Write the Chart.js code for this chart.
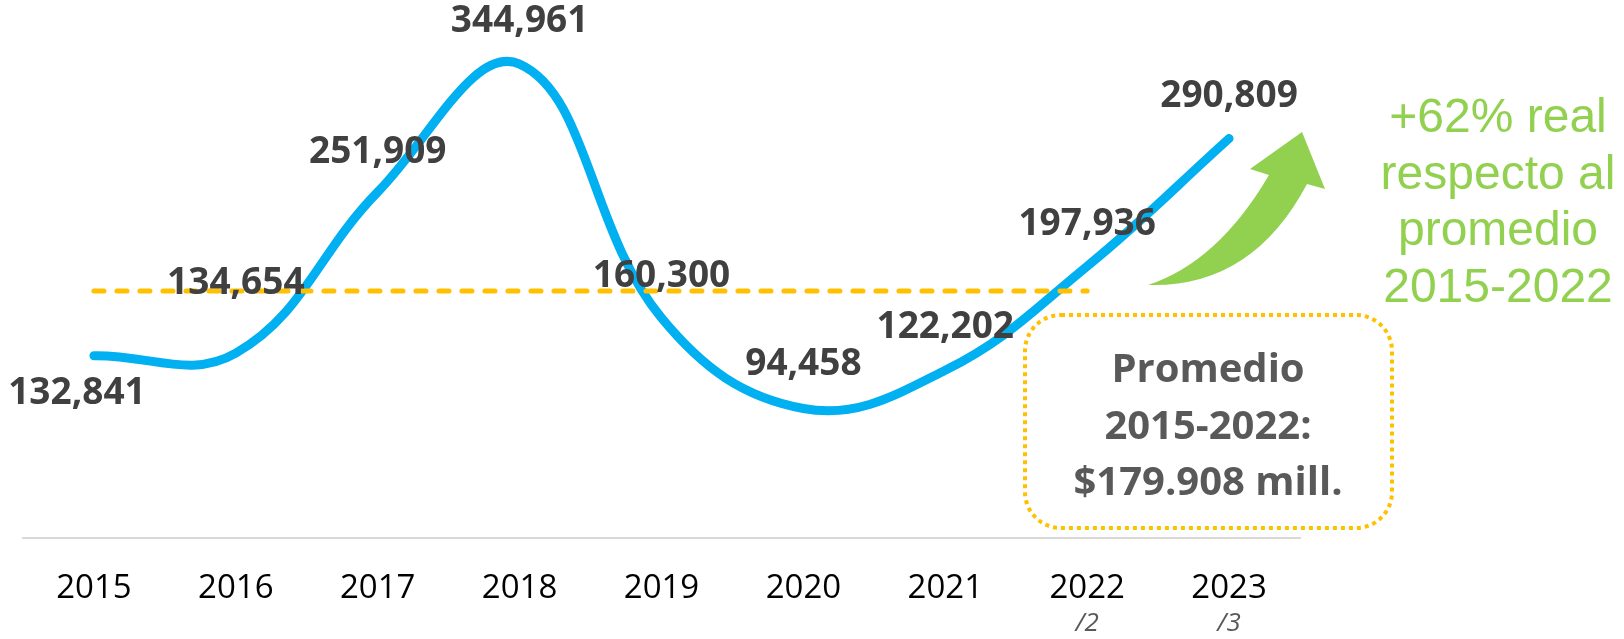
<!DOCTYPE html>
<html>
<head>
<meta charset="utf-8">
<script src="https://cdn.jsdelivr.net/npm/chart.js@4/dist/chart.umd.min.js"></script>
<style>
  html, body { margin: 0; padding: 0; background: #fff; }
  canvas { display: block; }
</style>
</head>
<body>
<canvas id="chart" width="1624" height="639"></canvas>
<script>
const years = ['2015', '2016', '2017', '2018', '2019', '2020', '2021', '2022', '2023'];
const values = [132841, 134654, 251909, 344961, 160300, 94458, 122202, 197936, 290809];
const average = [179908, 179908, 179908, 179908, 179908, 179908, 179908, 179908, null];
const yearNotes = ['', '', '', '', '', '', '', '/2', '/3'];
const boxLines = ['Promedio', '2015-2022:', '$179.908 mill.'];
const growthLines = ['+62% real', 'respecto al', 'promedio', '2015-2022'];

// label nudges (px) so the numbers sit like in the original
const labelShift = [[-17, 38], [0, -70], [0, -40], [0, -43], [0, -42], [0, -44], [0, -43], [0, -42], [0, -42]];

const valueLabels = {
  id: 'valueLabels',
  afterDatasetsDraw(chart) {
    const ctx = chart.ctx;
    const meta = chart.getDatasetMeta(1);
    ctx.save();
    ctx.font = "bold 37px 'Open Sans'";
    ctx.fillStyle = '#404040';
    ctx.textAlign = 'center';
    ctx.textBaseline = 'middle';
    meta.data.forEach((pt, i) => {
      const s = labelShift[i];
      ctx.fillText(values[i].toLocaleString('en-US'), pt.x + s[0], pt.y + s[1]);
    });
    ctx.restore();
  }
};

const extras = {
  id: 'extras',
  afterDraw(chart) {
    const ctx = chart.ctx;
    const xs = chart.scales.x;
    ctx.save();

    // footnote marks under the years
    ctx.font = "italic 26px 'Open Sans'";
    ctx.fillStyle = '#595959';
    ctx.textAlign = 'center';
    ctx.textBaseline = 'middle';
    yearNotes.forEach((n, i) => {
      if (n) ctx.fillText(n, xs.getPixelForValue(i), 624);
    });

    // dotted box with the average
    ctx.strokeStyle = '#FFC000';
    ctx.lineWidth = 4;
    ctx.setLineDash([4, 4]);
    ctx.beginPath();
    ctx.roundRect(1025, 315, 367, 213, 36);
    ctx.stroke();
    ctx.setLineDash([]);
    ctx.font = "bold 40px 'Open Sans'";
    ctx.fillStyle = '#595959';
    ctx.textBaseline = 'alphabetic';
    boxLines.forEach((t, i) => ctx.fillText(t, 1208, 382 + i * 56.5));

    // green curved arrow
    ctx.fillStyle = '#92D050';
    ctx.beginPath();
    ctx.moveTo(1148, 285);
    ctx.quadraticCurveTo(1218, 262, 1269, 175);
    ctx.lineTo(1250, 169);
    ctx.lineTo(1302, 132);
    ctx.lineTo(1325, 189);
    ctx.lineTo(1307, 184);
    ctx.quadraticCurveTo(1252, 288, 1148, 285);
    ctx.closePath();
    ctx.fill();

    // growth note
    ctx.font = "48px 'Liberation Sans'";
    ctx.fillStyle = '#92D050';
    growthLines.forEach((t, i) => ctx.fillText(t, 1498, 132 + i * 56.7));

    ctx.restore();
  }
};

new Chart(document.getElementById('chart'), {
  type: 'line',
  data: {
    labels: years,
    datasets: [
      {
        label: 'Promedio',
        data: average,
        borderColor: '#FFC000',
        borderWidth: 5,
        borderDash: [10, 13],
        borderCapStyle: 'round',
        pointRadius: 0,
        tension: 0,
        order: 0
      },
      {
        label: 'Monto',
        data: values,
        borderColor: '#00B0F0',
        borderWidth: 9,
        borderCapStyle: 'round',
        borderJoinStyle: 'round',
        pointRadius: 0,
        tension: 0.4,
        order: 1
      }
    ]
  },
  options: {
    responsive: false,
    devicePixelRatio: 1,
    animation: false,
    layout: { padding: { left: 23, right: 324, top: 20, bottom: 0 } },
    plugins: {
      legend: { display: false },
      tooltip: { enabled: false }
    },
    scales: {
      y: { display: false, min: 0, max: 377000 },
      x: {
        offset: true,
        grid: { display: false, drawTicks: false },
        border: { display: true, color: '#D9D9D9', width: 2 },
        ticks: {
          color: '#000',
          padding: 32,
          font: { family: "'Open Sans'", size: 33, lineHeight: 1.11 }
        }
      }
    }
  },
  plugins: [valueLabels, extras]
});
</script>
</body>
</html>
